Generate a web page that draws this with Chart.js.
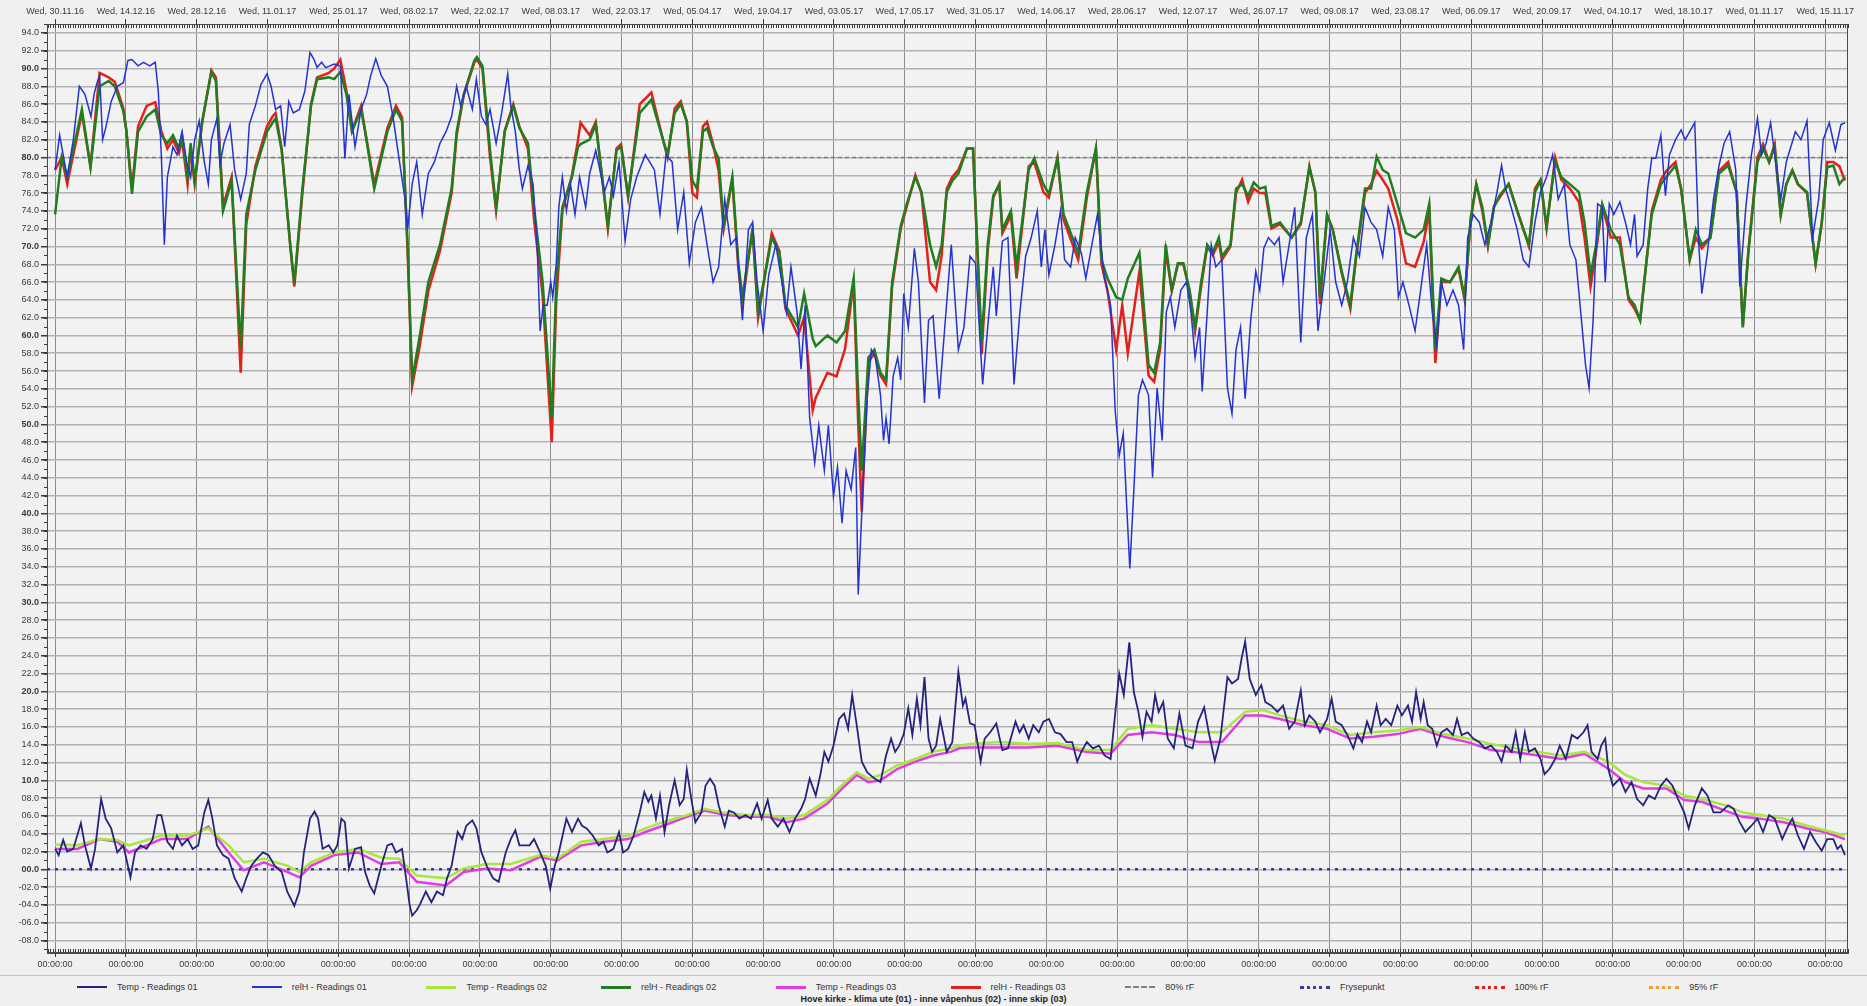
<!DOCTYPE html>
<html lang="no">
<head>
<meta charset="UTF-8">
<title>Hove kirke - klima</title>
<script src="https://cdn.jsdelivr.net/npm/chart.js@4.4.1/dist/chart.umd.min.js"></script>
<style>
  html, body { margin: 0; padding: 0; background: #f0f0f0; }
  #wrap { position: relative; width: 1867px; height: 1006px; overflow: hidden; }
  #c { position: absolute; left: 0; top: 0; }
  #legend { position: absolute; left: 0; top: 975px; width: 1867px; height: 31px;
            border-top: 1px solid #c4c4c4; font: 9px "Liberation Sans", Arial, sans-serif; color: #333; }
  .item { position: absolute; top: 6px; display: flex; align-items: center; white-space: nowrap; }
  .sample { width: 30px; height: 0; margin-right: 10px; }
  #title { position: absolute; top: 18px; left: 0; width: 100%; text-align: center; font-weight: bold; color: #222; }
</style>
</head>
<body>
<div id="wrap">
  <canvas id="c" width="1867" height="975"></canvas>
  <div id="legend"><div id="title">Hove kirke - klima ute (01) - inne våpenhus (02) - inne skip (03)</div></div>
</div>
<script>
// x = days since Wed 30.11.16
const dateLabels = ['Wed, 30.11.16', 'Wed, 14.12.16', 'Wed, 28.12.16', 'Wed, 11.01.17', 'Wed, 25.01.17',
  'Wed, 08.02.17', 'Wed, 22.02.17', 'Wed, 08.03.17', 'Wed, 22.03.17', 'Wed, 05.04.17', 'Wed, 19.04.17',
  'Wed, 03.05.17', 'Wed, 17.05.17', 'Wed, 31.05.17', 'Wed, 14.06.17', 'Wed, 28.06.17', 'Wed, 12.07.17',
  'Wed, 26.07.17', 'Wed, 09.08.17', 'Wed, 23.08.17', 'Wed, 06.09.17', 'Wed, 20.09.17', 'Wed, 04.10.17',
  'Wed, 18.10.17', 'Wed, 01.11.17', 'Wed, 15.11.17'];
const tickDays = [0, 14, 28, 42, 56, 70, 84, 98, 112, 126, 140, 154, 168, 182, 196, 210, 224, 238, 252,
  266, 280, 294, 308, 322, 336, 350];
const timeLabels = tickDays.map(() => '00:00:00');

const legendNames = ['Temp - Readings 01', 'relH - Readings 01', 'Temp - Readings 02', 'relH - Readings 02',
  'Temp - Readings 03', 'relH - Readings 03', '80% rF', 'Frysepunkt', '100% rF', '95% rF'];

const rfLimit = 80;
const freezePoint = 0;

// relH 02 / relH 03 share the sample days
const rhDays = [
  0, 1.3, 2.4, 5.3, 7, 8.8, 10.6, 11.8, 13.5, 14.1,
  15.2, 16.4, 18.1, 19.8, 21, 22.2, 23.3, 24.5, 25.1, 26.2,
  26.8, 27.6, 29.1, 30.9, 31.8, 33.2, 34.9, 36.7, 37.8, 39.6,
  41.9, 43, 43.6, 44.8, 46.5, 47.3, 48.9, 50.6, 51.8, 54.1,
  55.2, 56.4, 57.6, 58.7, 60.5, 61.3, 63.1, 65.7, 67.4, 68.6,
  69.7, 70.6, 72, 73.8, 76.1, 78.4, 79.4, 80.8, 82.9, 83.4,
  84.5, 86, 87.2, 88.9, 90.6, 91.8, 93.5, 94.7, 96.4, 98.2,
  99.1, 100.3, 102.2, 103.4, 103.9, 105.7, 106.9, 108, 109.3, 111,
  111.9, 113.3, 115.6, 117.9, 120.2, 121.1, 122.5, 123.7, 124.9, 126,
  126.9, 128.1, 128.9, 130.1, 131.2, 132.2, 133.9, 135.1, 135.9, 137.9,
  139, 141.7, 143.2, 144.4, 146.9, 148.1, 149.8, 150.4, 152.7, 154.5,
  156.2, 157.9, 158.8, 159.5, 160.8, 162, 163.2, 164.3, 165.5, 167.2,
  168.4, 170.1, 171.3, 173, 174.2, 175.3, 176.3, 177.4, 178.6, 180.3,
  181.5, 183.2, 184.4, 185.5, 186.7, 187.3, 189, 190.1, 192.5, 193.6,
  195.4, 196.5, 198.2, 199.4, 202.3, 204, 205.8, 206.9, 208.1, 209.8,
  211, 212.1, 214.4, 216.2, 217.3, 218.5, 219.6, 220.8, 222, 223.1,
  224.3, 225.4, 226.6, 227.8, 228.9, 230.1, 230.7, 232.4, 233.5, 234.7,
  235.9, 237, 238.2, 239.3, 240.5, 242.2, 244.5, 246.3, 248, 249.2,
  250.1, 251.5, 252.6, 254.4, 256.1, 257.3, 259, 260.2, 261.3, 262.5,
  263.6, 265.4, 267.1, 268.9, 270.6, 271.7, 272.9, 274.1, 275.8, 277.5,
  278.7, 279.9, 281, 282.2, 283.3, 284.5, 285.6, 287.4, 289.1, 290.3,
  291.4, 292.6, 293.7, 294.9, 296.6, 297.8, 299.5, 301.3, 302.4, 303.6,
  304.7, 305.9, 307.6, 309.4, 311.1, 312.3, 313.4, 314.6, 315.7, 317.5,
  318.6, 320.4, 321.5, 323.2, 324.4, 325.6, 327.3, 329, 330.8, 332.5,
  333.7, 334.8, 336.6, 337.7, 338.9, 340, 341.2, 342.3, 343.5, 344.6,
  346.4, 348.1, 349.3, 350.4, 351.6, 352.8, 353.9];

const relH02 = [
  73.6, 80, 77.8, 85.4, 78.9, 88, 88.6, 88, 85.2, 83,
  75.9, 82.9, 84.6, 85.4, 82.5, 81.6, 82.5, 81, 82.5, 77.8,
  81.6, 77.4, 84.1, 89.6, 88.6, 74, 77.4, 58.5, 73.6, 78.6,
  82.9, 83.9, 84.4, 80.8, 70.2, 65.8, 76.5, 85.8, 88.8, 89,
  88.8, 89.6, 87.1, 82.9, 85.4, 82.9, 76.5, 82.9, 85.4, 84.1,
  70.2, 55, 59.6, 66, 70.2, 76.5, 82.9, 87.1, 90.9, 91.3,
  90.3, 80.8, 74.4, 82.9, 85.8, 83.3, 81.6, 74.4, 66, 50.7,
  66, 74.4, 77.8, 81.2, 81.5, 82, 83.7, 78.6, 72.3, 80.8,
  81.2, 75.7, 85, 86.5, 82, 80.3, 85, 86, 84.1, 77.4,
  76.5, 82.9, 83.3, 81.2, 79.9, 72.3, 77.8, 68.1, 64.3, 71.9,
  62.6, 71, 69.3, 63.4, 60.9, 64.7, 59.6, 58.8, 60, 59.2,
  60.5, 66.4, 53.3, 44.8, 57.5, 58.4, 55.8, 55, 66, 72.3,
  74.8, 77.8, 76.1, 70.2, 67.7, 70.2, 76.1, 77.4, 78.2, 81,
  81, 59.2, 70.2, 75.7, 77, 71.9, 74, 67.7, 78.6, 79.9,
  77, 75.9, 79.9, 73.6, 69.3, 76.1, 81, 68.5, 66.4, 64.3,
  64, 66.4, 69.3, 56.7, 55.8, 59.2, 70.2, 65.1, 68.1, 68.1,
  65.1, 60.9, 66, 70.2, 69.3, 71, 68.9, 70.2, 76.5, 77,
  75.7, 77.2, 76.5, 76.7, 72.3, 72.7, 71, 72.7, 78.9, 76.1,
  64.3, 73.6, 71.9, 67.2, 63.4, 69.3, 76.5, 76.5, 80.1, 78.6,
  78.2, 74.8, 71.5, 71, 71.9, 74.8, 58.4, 66.4, 66, 67.7,
  64.3, 73.2, 77, 74.4, 70.2, 74.4, 75.7, 77, 74, 71.9,
  70.2, 76.1, 77.4, 72.3, 79.5, 77.8, 77, 76.1, 72.7, 66.8,
  70.2, 74.8, 71.9, 70.2, 64.3, 63.4, 61.7, 68.1, 73.6, 77,
  77.8, 79.1, 76.5, 68.5, 71.9, 70.2, 71, 78.2, 79.1, 76.1,
  60.9, 69.3, 79.5, 81, 79.5, 81.2, 73.6, 77, 78.6, 77,
  76.1, 68.1, 72.7, 78.9, 79.1, 77, 77.8];

const relH03 = [
  78.6, 80, 77, 85, 79, 89.5, 89, 88.5, 85.5, 83,
  76.5, 83.5, 85.8, 86.2, 83, 81, 82, 80.5, 82, 77,
  81, 77, 84, 89.8, 89, 74.5, 77.8, 55.8, 72.5, 79,
  83.5, 84.6, 85, 81, 70, 65.5, 76, 86, 89, 89.5,
  90, 91, 87.5, 83, 85.8, 83, 77, 83.3, 85.8, 84.5,
  69.5, 54.3, 58.5, 65, 69.5, 76, 82.5, 87, 90.7, 91,
  90, 80, 74, 83, 86, 83.5, 81, 73, 64.5, 48,
  64, 74, 78, 82, 83.9, 82.5, 84, 78.5, 72, 81,
  81.5, 75.5, 86, 87.3, 82, 80, 85.5, 86.3, 84, 76,
  75.5, 83.5, 84, 81.5, 78.5, 72, 77.5, 67.5, 63.5, 72,
  62, 71.5, 69.5, 63, 60, 62, 51.6, 53, 55.8, 55.4,
  58.5, 66, 50, 40.2, 57, 58, 55.5, 54.5, 65.5, 72,
  74.5, 78, 76, 66, 65.1, 69, 76.5, 77.8, 78.6, 81,
  81, 57.9, 69.5, 75.5, 77, 71.5, 73.5, 66.4, 79, 79.5,
  76.1, 75.5, 80, 73, 68.5, 75.5, 81, 68, 65, 58.4,
  63.4, 58, 67.2, 55.5, 54.8, 58.5, 69.5, 65, 68, 68,
  65, 60.5, 65.5, 70, 69, 70.5, 68.5, 70, 76, 77.5,
  75, 76.5, 76, 76, 72, 72.5, 71, 72.5, 79, 76,
  63.5, 73.5, 72, 67, 63, 69, 76, 77, 78.5, 77.5,
  76.5, 73, 68.1, 67.7, 70.5, 74, 56.9, 66, 66, 67.5,
  64, 73, 77, 74, 70, 74.5, 75.5, 77, 74, 72,
  70, 76.5, 77.5, 72, 80, 77.5, 76.5, 75, 71, 65.5,
  69.5, 74.5, 71, 71, 64, 63, 61.7, 68, 74, 77.5,
  78.5, 79.5, 76.5, 68.5, 71, 69.8, 71, 78.5, 79.5, 76,
  61, 69.5, 80, 81.5, 79.5, 81.5, 73.5, 77, 78.5, 77,
  76, 68, 72.5, 79.5, 79.5, 79, 77.4];

// relH 01 (outside) as [day, value]
const relH01 = [
  [0, 78.6], [0.9, 82.5], [2.4, 77.8], [3.6, 82], [4.8, 88], [5.9, 87.1], [7.1, 84.6], [7.7, 87.1], [8.2, 88.2], [8.8, 89.2],
  [9.4, 82], [10, 83.3], [11.1, 86.3], [12.3, 88], [13.5, 88.4], [14.4, 90.9], [15.2, 91], [16.4, 90.3], [17.5, 90.7], [18.7, 90.3],
  [19.8, 90.7], [20.4, 87.5], [21, 80.3], [21.6, 70.2], [22.2, 77.8], [23.3, 81.2], [24.1, 80.3], [25.1, 82.9], [26, 79.5], [26.8, 77.8],
  [27.6, 82], [28.5, 84.1], [29.5, 79.5], [30.3, 77], [30.9, 82], [32, 84.4], [32.6, 79.3], [33.4, 81.6], [34.6, 83.7], [35.5, 78.6],
  [36.7, 75.3], [37.8, 78.2], [38.4, 83.7], [39.6, 85.8], [40.7, 88.2], [41.9, 89.4], [42.7, 88], [43.6, 85.4], [44.6, 85.8], [45.4, 81.2],
  [46.2, 86.3], [47.1, 85], [48.3, 85.4], [49.4, 87.5], [50.4, 91.8], [51.2, 91], [51.8, 90.1], [52.7, 90.7], [53.5, 90.1], [55.2, 90.5],
  [56.4, 90.3], [57.3, 79.9], [58.1, 87.1], [59.3, 81.2], [60.5, 85.4], [61.6, 87.1], [62.4, 89.2], [63.4, 91.1], [64.5, 89.2], [65.7, 88],
  [66.8, 84.6], [68, 79.9], [69.2, 75.3], [69.7, 71.9], [70.6, 77], [71.5, 79.5], [72.6, 73.6], [73.8, 78.2], [75, 79.5], [76.1, 81.6],
  [77.3, 82.9], [78.4, 84.6], [79.4, 88], [80.2, 85.8], [81.3, 88], [82.5, 85.4], [83.3, 88.8], [84.3, 84.6], [85.2, 83.7], [86, 85.4],
  [87.2, 81.6], [88.3, 85], [89.5, 89.4], [90.1, 85.8], [91, 82.9], [91.8, 78.6], [92.4, 76.5], [93.5, 79.1], [94.5, 77], [95.3, 70.2],
  [95.9, 60.5], [96.5, 63.4], [97.3, 63.4], [98, 66], [98.4, 64.3], [99.1, 68.1], [99.6, 74.4], [100.3, 77.8], [101.1, 74], [101.9, 77],
  [102.8, 73.6], [103.7, 77.8], [104.9, 74.4], [105.7, 78.2], [106.9, 80.8], [107.7, 78.6], [108.6, 76.1], [109.6, 77.8], [110.4, 75.7], [111.5, 79.5],
  [112.7, 70.6], [113.8, 75.3], [115, 77.8], [116.7, 80.3], [118.5, 78.6], [119.6, 73.6], [120.8, 80.3], [122, 79.5], [123.1, 71.9], [124.3, 76.1],
  [125.4, 68.1], [126.6, 72.7], [127.8, 74.4], [128.9, 70.2], [130.1, 66], [131.2, 67.7], [132.4, 75.3], [133.6, 70.2], [134.7, 71], [135.9, 61.7],
  [137.1, 71.9], [137.9, 72.7], [138.8, 66], [140, 60.5], [141.1, 66.8], [142.5, 70.2], [143.7, 66], [144.6, 62.6], [145.5, 67.7], [146.7, 62.6],
  [147.5, 56.2], [148.3, 63.4], [149.2, 50.7], [150.2, 45.7], [151, 49.9], [152.1, 44.8], [152.9, 49.9], [153.9, 41.9], [154.7, 45.2], [155.6, 38.9],
  [156.4, 44.8], [157.4, 42.7], [158.3, 47.4], [158.8, 30.9], [159.7, 42.7], [160.6, 53.3], [161.4, 58.4], [162.2, 57.5], [163.2, 53.3], [163.8, 48.2],
  [164.3, 50.7], [164.9, 47.8], [165.7, 55.4], [166.6, 57.5], [167.2, 55], [167.8, 64.7], [168.7, 60.9], [169.9, 69.8], [170.7, 66], [171.9, 52.4],
  [172.7, 61.7], [173.6, 62.2], [174.8, 52.9], [176.2, 63], [177.2, 70.2], [178.6, 58.4], [179.7, 60.9], [180.9, 68.9], [182, 68.1], [183.4, 54.5],
  [184.6, 62.2], [185.5, 67.7], [186.1, 62.2], [187.3, 70.6], [188.4, 71], [189.6, 54.5], [190.7, 62.2], [191.9, 68.9], [193, 71], [194.2, 74],
  [195, 67.7], [195.7, 71.9], [196.5, 66.8], [197.7, 70.2], [198.8, 74], [199.6, 68.5], [200.8, 67.7], [201.7, 71], [202.9, 69.3], [203.8, 66.4],
  [205, 70.2], [206.1, 73.6], [207.5, 66.4], [208.7, 63.4], [209.6, 51.6], [210.4, 46.5], [211.2, 49], [211.9, 40.6], [212.5, 33.8], [213.3, 42.7],
  [214.2, 53.3], [215, 55], [216.2, 53.3], [217, 44], [217.9, 54.1], [218.9, 48.2], [219.7, 62.6], [220.5, 64.3], [221.4, 60.9], [222.6, 65.1],
  [223.7, 66], [224.6, 62.6], [225.4, 57.5], [226.3, 60.9], [226.8, 53.7], [227.8, 62.6], [228.6, 70.2], [229.5, 67.7], [230.7, 68.5], [231.8, 54.1],
  [232.7, 51.2], [233.5, 58.4], [234.4, 60.9], [235.3, 52.9], [236.4, 61.7], [237.4, 67.2], [238.2, 65.1], [239, 69.8], [239.9, 71], [241.1, 70.2],
  [242, 71], [242.8, 66], [244, 70.2], [245.1, 74.4], [246.3, 59.2], [247.4, 71], [248.6, 73.6], [249.7, 60.5], [250.9, 66], [252.1, 71.9],
  [253.2, 66], [254.4, 63.4], [255.5, 66], [256.7, 71], [257.9, 68.9], [259, 74.4], [260.2, 72.7], [261.3, 71.9], [262.5, 68.9], [263.6, 74.4],
  [264.8, 71.9], [265.6, 64.3], [266.5, 66], [267.7, 63.4], [268.9, 60.5], [270, 65.1], [271.2, 70.2], [272.3, 62.6], [273.2, 58.8], [274.1, 66],
  [275.2, 63.4], [276.4, 65.1], [277.5, 63.4], [278.5, 58.4], [279.3, 71], [280.4, 73.6], [281.6, 72.7], [282.7, 70.2], [283.9, 72.7], [285.1, 76.1],
  [286, 79.1], [286.8, 76.5], [287.9, 74.4], [289.1, 71.9], [290.3, 68.5], [291.4, 67.7], [292.6, 72.7], [293.7, 76.1], [294.9, 77.8], [296.1, 80.3],
  [297.2, 75.3], [298.4, 77], [299.5, 70.2], [300.7, 68.5], [301.8, 61.7], [302.6, 56.7], [303.3, 54.1], [304.1, 61.7], [305, 74.8], [305.9, 74.4],
  [306.5, 66], [307.3, 74.8], [308.2, 73.6], [309.4, 75], [310.5, 72.7], [311.5, 70.2], [312.3, 73.6], [312.8, 68.9], [314, 70.2], [314.9, 76.5],
  [315.7, 79.9], [316.5, 79.9], [317.5, 82.5], [318.4, 75.7], [319.2, 80.3], [320.4, 82], [321.5, 83.1], [322.3, 82], [323.2, 82.9], [324.2, 83.9],
  [325, 70.2], [325.6, 64.7], [326.7, 69.3], [327.9, 75.3], [329, 79.1], [330, 81.6], [331.1, 82.9], [332.3, 78.6], [333.1, 65.5], [334.3, 74.4],
  [335.4, 80.3], [336.6, 84.4], [337.4, 80.3], [338.3, 81.6], [339.2, 83.9], [340, 80.3], [341.2, 75.3], [342.3, 79.5], [343.2, 81.2], [344.1, 82.9],
  [345.2, 82], [346.4, 84.1], [347.5, 71], [348.7, 75.3], [349.6, 82], [350.8, 83.9], [352, 80.8], [353.1, 83.7], [353.9, 83.9]];

// Temp 01 (outside) as [day, value]
const temp01 = [
  [0, 2.3], [0.7, 1.6], [1.6, 3.3], [2.4, 2], [3.6, 2.3], [5.1, 5.2], [5.9, 2.7], [7.1, 0.1], [7.9, 2.3], [9.1, 7.9],
  [10, 5.7], [11.1, 4.6], [12.3, 1.9], [13.5, 2.7], [14.9, -0.9], [15.8, 1.9], [16.9, 2.7], [18.1, 2.3], [19.3, 3.4], [20.2, 6.1],
  [21, 6.1], [22.2, 3.1], [23.3, 2.3], [24.1, 3.8], [25.1, 2.7], [26.2, 3.4], [27.2, 2.3], [28.3, 2.7], [29.5, 6.4], [30.3, 7.8],
  [31.1, 5.7], [32, 2.7], [33.2, 1.6], [34.3, 1.2], [35.5, -1], [36.9, -2.5], [37.8, -1], [38.8, 0.4], [39.9, 1.2], [41.1, 1.9],
  [42.2, 1.6], [43.4, 0.4], [44.8, -0.3], [45.9, -2.5], [47.3, -4.1], [48.3, -2.5], [49.2, 1.9], [50.4, 5.7], [51.3, 6.5], [52, 5.7],
  [52.9, 2.3], [54.1, 2.7], [55, 1.9], [55.8, 2.7], [56.6, 5.7], [57.3, 5.3], [58.1, 0.1], [59.3, 2.3], [60.5, 2.5], [61.3, -0.3],
  [62.2, -1.8], [63.1, -2.7], [64.5, 0.4], [65.7, 2.7], [66.6, 2.9], [67.4, 1.9], [68.6, 2.3], [69.4, -1], [70.1, -4], [70.6, -5.2],
  [71.5, -4.6], [72.1, -4], [73.3, -2.5], [74.4, -3.7], [75.5, -2.5], [76.7, -2.9], [77.5, -1], [78.4, 0.4], [79.6, 4.2], [80.5, 3.4],
  [81.3, 4.9], [82.5, 5.5], [83.3, 4.6], [84.3, 1.9], [85.4, 0.3], [86.6, -1], [87.7, -1.4], [89.1, 1.9], [90.1, 3.4], [91, 4.4],
  [91.8, 2.7], [93, 2.7], [93.8, 2.7], [94.7, 3.4], [95.9, 1.9], [97, 0.4], [97.9, -2.2], [98.8, 0.4], [99.6, 1.9], [100.5, 4.2],
  [101.1, 5.7], [102.2, 4.2], [103.4, 5.7], [104.2, 4.9], [105.1, 4.6], [106.3, 3.8], [107.5, 2.7], [108.4, 3.1], [109.2, 1.9], [110.4, 2.3],
  [111.5, 4.2], [112.3, 1.9], [113.3, 2.3], [114.4, 3.8], [115.6, 6.4], [116.5, 8.7], [117.3, 7.6], [117.9, 8.3], [118.8, 5.7], [119.6, 8.3],
  [120.5, 4.2], [121.4, 7.2], [122.5, 10], [123.5, 7.2], [124.3, 7.9], [124.9, 11.2], [125.8, 7.9], [126.6, 5.3], [127.8, 6.4], [128.6, 9.4],
  [129.5, 10.2], [130.4, 9.4], [131.2, 7.2], [132.4, 4.8], [133.2, 6.6], [134.2, 6.4], [135.3, 5.7], [136.5, 6.1], [137.6, 5.7], [138.8, 7.4],
  [139.7, 5.7], [140.9, 7.8], [141.7, 5.7], [142.9, 4.8], [144, 5.7], [145.2, 4.2], [146.3, 5.7], [147.5, 6.8], [148.3, 7.9], [149.2, 10.2],
  [150.4, 8.3], [151.3, 10.6], [152.1, 13.2], [152.9, 12.1], [153.9, 13.9], [155, 16.9], [156, 17.5], [156.8, 15.8], [157.6, 19.6], [158.5, 16.2],
  [159.5, 12.1], [160.6, 10.9], [162, 10.2], [163.2, 9.8], [164.3, 12.8], [165.3, 14.7], [166.1, 13.2], [166.9, 13.9], [167.8, 15.2], [168.7, 18.1],
  [169.5, 15.1], [170.4, 19.2], [171.1, 16.2], [171.9, 21.6], [172.7, 14.7], [173.4, 13.2], [174.2, 13.9], [175, 16.9], [176.3, 13.2], [177.4, 14.3],
  [178.6, 22.2], [179.5, 18.4], [180, 19.2], [180.9, 16.4], [181.8, 16.2], [183, 12.1], [183.8, 14.7], [184.9, 15.4], [186.1, 16.4], [187.3, 13.4],
  [188.4, 13.6], [189.9, 16.6], [190.7, 15.4], [191.5, 16.2], [192.5, 14.7], [193.4, 16.2], [194.5, 15.4], [195.4, 16.6], [196.5, 16.9], [197.7, 15.4],
  [198.8, 15.2], [200, 14.3], [201.1, 14.3], [202.1, 12.1], [202.9, 13.2], [204, 14.3], [205.2, 13.6], [206.4, 13.9], [207.5, 12.8], [208.7, 12.4],
  [209.5, 16.9], [210.4, 22], [211.3, 19.6], [212.4, 25.5], [213.3, 19.9], [214.2, 17.7], [215, 14.9], [215.8, 17.7], [216.8, 16.6], [217.5, 19.6],
  [218.2, 17.7], [219.1, 18.8], [220, 14.7], [221.2, 13.6], [222.3, 17.5], [223.5, 13.9], [224.9, 13.6], [226, 16.6], [227.2, 18.2], [228.1, 15.4],
  [229.3, 12.2], [230.4, 14.7], [231.8, 21.6], [232.7, 20.9], [233.9, 21.4], [234.6, 23.7], [235.3, 25.6], [236.2, 21.4], [237.4, 19.6], [238.5, 20.7],
  [239.3, 18.8], [240.5, 18.4], [241.7, 17.7], [242.8, 18.4], [244, 15.8], [245.1, 16.6], [246.3, 20.1], [247.1, 16.2], [248, 17.3], [249.2, 16.6],
  [250.1, 15.4], [251.5, 16.9], [252.4, 19.2], [253.2, 16.6], [254.4, 16.2], [255.5, 15.1], [256.7, 13.6], [257.5, 15.2], [258.4, 14.3], [259.4, 16.6],
  [260.2, 15.4], [261.3, 18.4], [262.1, 16.2], [263.1, 16.9], [264.2, 16.2], [265.4, 18.4], [266.3, 17.3], [267.5, 18.4], [268.3, 16.6], [269.1, 19.9],
  [270, 16.9], [270.6, 18.8], [271.4, 16.2], [272.3, 15.8], [273.2, 13.9], [274.1, 15.4], [275.2, 15.8], [276.4, 15.1], [277.2, 16.9], [278.1, 15.1],
  [279.3, 15.4], [280.4, 14.7], [281.6, 14.3], [282.7, 13.6], [283.9, 13.9], [285.1, 13.2], [286, 12.1], [286.8, 13.9], [288, 13.2], [288.8, 15.4],
  [289.7, 12.4], [290.6, 15.4], [291.4, 13.2], [292.6, 13.6], [293.7, 12.4], [294.5, 10.7], [295.5, 11.3], [296.6, 12.4], [297.5, 13.9], [298.7, 12.4],
  [299.9, 15.1], [301, 14.7], [302.2, 15.4], [303, 16.2], [303.8, 13.2], [305, 12.4], [305.7, 13.9], [306.5, 14.7], [307.1, 11.3], [308, 9.4],
  [309.4, 10.2], [310.5, 8.7], [311.7, 9.8], [312.8, 7.9], [314, 7.2], [315.1, 8.3], [316.3, 7.9], [317.5, 9.4], [318.6, 10.2], [319.8, 9.4],
  [320.9, 7.9], [322.1, 6.4], [323, 4.6], [324.2, 7.2], [325.6, 9.1], [326.7, 8.3], [327.9, 6.4], [329.3, 6.4], [330.8, 7.2], [331.9, 6.8],
  [333.1, 5.3], [334.2, 4.2], [335.4, 4.9], [336.6, 5.7], [337.7, 4.2], [338.9, 6.1], [340, 5.7], [341.5, 3.4], [342.7, 4.9], [343.5, 5.7],
  [344.6, 3.8], [345.8, 2.3], [347, 4.2], [348.1, 3.1], [349.3, 2.1], [350.4, 3.4], [351.6, 3.4], [352.4, 2.3], [353.1, 2.7], [353.9, 1.6]];

// Temp 02 / Temp 03 (inside) share sample days
const tempDays = [
  0, 4.4, 8.8, 12.3, 14.6, 18.1, 21, 26.2, 30.3, 34.3,
  37.3, 41.3, 46, 48.3, 50.6, 55.2, 59.9, 64.5, 68, 71.5,
  77.3, 80.8, 85.4, 90.1, 95.9, 99.3, 104, 108.6, 113.3, 116.7,
  120.2, 124.9, 128.4, 131.9, 136.5, 141.1, 144.6, 148.1, 152.7, 156.2,
  158.5, 160.8, 163.2, 166.6, 170.1, 173.6, 177.1, 178.8,
  180.9, 186.7, 192.5, 198.2, 204, 208.7, 212.1, 216.8, 221.4, 226.1,
  230.7, 235.3, 238.8, 242.2, 246.9, 251.5, 256.1, 260.7, 265.4, 270,
  274.6, 279.3, 283.9, 288.5, 293.2, 297.8, 302.4, 307.1, 310.5, 314,
  318.6, 322.1, 325.6, 330.2, 333.6, 337.1, 341.8, 346.4, 349.9, 353.9];
const temp02 = [
  2.8, 2.7, 3.4, 3.3, 2.7, 3.3, 3.8, 3.8, 4.6, 2.7,
  0.8, 1.2, 0.4, -0.3, 0.8, 1.9, 2.3, 1.3, 1.2, -0.7,
  -1, 0.1, 0.6, 0.6, 1.6, 1.2, 3.1, 3.4, 3.8, 4.6,
  5.3, 6.1, 6.8, 6.4, 6.1, 6.1, 5.7, 6.1, 7.8, 9.8,
  10.9, 10.2, 10.6, 11.7, 12.4, 13.2, 13.6, 13.9,
  14.1, 14.3, 14.1, 14.2, 13.4, 13.4, 15.8, 16.2, 15.8, 15.4,
  15.4, 17.7, 17.9, 17.3, 16.6, 16.2, 15.1, 15.4, 15.6, 16,
  15.2, 14.7, 14.1, 13.6, 13.2, 12.8, 13.2, 12.1, 10.6, 9.8,
  9.4, 8.3, 7.9, 7.2, 6.4, 6.1, 5.7, 4.9, 4.4, 3.8];
const temp03 = [
  2.3, 2.3, 3.4, 3.1, 1.9, 2.7, 3.4, 3.4, 4.8, 1.9,
  -0.1, 0.8, -0.3, -0.9, 0.4, 1.6, 1.9, 0.6, 0.8, -1.4,
  -1.8, -0.3, 0.1, -0.1, 1.4, 1, 2.7, 3.1, 3.4, 4.2,
  4.9, 5.9, 6.6, 6.2, 5.9, 5.9, 5.3, 5.7, 7.4, 9.4,
  10.6, 9.8, 10, 11.3, 12.1, 12.8, 13.2, 13.6,
  13.7, 13.7, 13.7, 13.9, 13.2, 13, 15.1, 15.4, 15.1, 14.3,
  14.3, 17.3, 17.3, 16.9, 16.2, 15.8, 14.7, 14.9, 15.2, 15.8,
  14.9, 14.3, 13.4, 13.2, 12.8, 12.4, 13, 11.3, 9.8, 9.1,
  9.1, 7.8, 7.6, 6.6, 5.9, 5.7, 5.3, 4.6, 4.2, 3.4];

const X_MIN = -1.6, X_MAX = 354.5;
const Y_MIN = -9.4, Y_MAX = 95;

const colors = {
  temp01: '#24247e', relH01: '#2434d2', temp02: '#a6e83c', relH02: '#1f7f1f',
  temp03: '#e03ce0', relH03: '#e3201c', rf80: '#808080', frost: '#3a3aa6', rf100: '#e3201c', rf95: '#f0a030'
};

function line(label, points, color, width, extra) {
  return Object.assign({
    label: label, data: points, borderColor: color, borderWidth: width,
    pointRadius: 0, fill: false, tension: 0
  }, extra || {});
}
const zip = (xs, ys) => xs.map((x, i) => ({ x: x, y: ys[i] }));
const pairs = arr => arr.map(p => ({ x: p[0], y: p[1] }));

// minor ticks + frame
const framePlugin = {
  id: 'framePlugin',
  beforeDraw(chart) {
    const { ctx, chartArea: a } = chart;
    ctx.save();
    ctx.fillStyle = '#f0f0f0';
    ctx.fillRect(0, 0, chart.width, chart.height);
    ctx.fillStyle = '#f2f2f2';
    ctx.fillRect(a.left, a.top, a.right - a.left, a.bottom - a.top);
    ctx.restore();
  },
  afterDraw(chart) {
    const { ctx, chartArea: a } = chart;
    const xs = chart.scales.x, ys = chart.scales.y;
    ctx.save();
    ctx.strokeStyle = '#3a3a3a';
    ctx.lineWidth = 1;
    ctx.beginPath();
    for (let d = Math.ceil(xs.min * 2) / 2; d <= xs.max; d += 0.5) {
      const px = Math.round(xs.getPixelForValue(d)) + 0.5;
      ctx.moveTo(px, a.top); ctx.lineTo(px, a.top + 4);
      ctx.moveTo(px, a.bottom); ctx.lineTo(px, a.bottom - 4);
    }
    for (let v = Math.ceil(ys.min); v <= ys.max; v += 1) {
      const py = Math.round(ys.getPixelForValue(v)) + 0.5;
      ctx.moveTo(a.left - 3, py); ctx.lineTo(a.left, py);
    }
    ctx.stroke();
    ctx.strokeStyle = '#4a4a4a';
    ctx.strokeRect(a.left + 0.5, a.top + 0.5, a.right - a.left - 1, a.bottom - a.top - 1);
    ctx.restore();
  }
};

Chart.defaults.font.family = '"Liberation Sans", Arial, sans-serif';
Chart.defaults.font.size = 9;
Chart.defaults.color = '#3a3a3a';

// Chart.js paints the first dataset last, so the top-most line comes first here
new Chart(document.getElementById('c'), {
  type: 'line',
  data: {
    datasets: [
      line('Temp - Readings 01', pairs(temp01), colors.temp01, 1.8),
      line('Temp - Readings 02', zip(tempDays, temp02), colors.temp02, 2.5),
      line('Temp - Readings 03', zip(tempDays, temp03), colors.temp03, 2.5),
      line('relH - Readings 01', pairs(relH01), colors.relH01, 1.5),
      line('relH - Readings 02', zip(rhDays, relH02), colors.relH02, 2.5),
      line('relH - Readings 03', zip(rhDays, relH03), colors.relH03, 2.5),
      line('Frysepunkt', [{ x: X_MIN, y: freezePoint }, { x: X_MAX, y: freezePoint }], colors.frost, 2.5, { borderDash: [3, 5] }),
      line('80% rF', [{ x: X_MIN, y: rfLimit }, { x: X_MAX, y: rfLimit }], colors.rf80, 1.5, { borderDash: [4, 3] })
    ]
  },
  options: {
    responsive: false,
    animation: false,
    events: [],
    layout: { padding: { left: 0, right: 19, top: 0, bottom: 0 } },
    plugins: { legend: { display: false }, tooltip: { enabled: false } },
    scales: {
      x: {
        type: 'linear', position: 'bottom', min: X_MIN, max: X_MAX,
        afterBuildTicks: ax => { ax.ticks = tickDays.map(v => ({ value: v })); },
        afterFit: s => { s.height = 22; },
        ticks: { autoSkip: false, maxRotation: 0, padding: 2, callback: (v, i) => timeLabels[i] },
        grid: { drawOnChartArea: false, tickLength: 4, tickColor: '#3a3a3a' },
        border: { display: true, color: '#4a4a4a' }
      },
      x2: {
        type: 'linear', position: 'top', min: X_MIN, max: X_MAX,
        afterBuildTicks: ax => { ax.ticks = tickDays.map(v => ({ value: v })); },
        afterFit: s => { s.height = 24; },
        ticks: { autoSkip: false, maxRotation: 0, padding: 2, callback: (v, i) => dateLabels[i] },
        grid: { color: '#8c8c8c', lineWidth: 1, tickLength: 5, tickColor: '#3a3a3a' },
        border: { display: true, color: '#4a4a4a' }
      },
      y: {
        type: 'linear', min: Y_MIN, max: Y_MAX,
        afterFit: s => { s.width = 47; },
        ticks: {
          stepSize: 2, includeBounds: false, autoSkip: false, maxTicksLimit: 1000, padding: 2,
          callback: v => (v < 0 ? '-' : '') + Math.abs(v).toFixed(1).padStart(4, '0'),
          font: c => ({ size: 9, weight: c.tick && c.tick.value % 10 === 0 ? 'bold' : 'normal' })
        },
        grid: { color: '#b2b2b2', lineWidth: 1.5, tickLength: 6, tickColor: '#3a3a3a' },
        border: { display: true, color: '#4a4a4a' }
      }
    }
  },
  plugins: [framePlugin]
});

// legend row, fixed columns as in the original program
const legendStyles = [
  'border-top:2px solid ' + colors.temp01,
  'border-top:2px solid ' + colors.relH01,
  'border-top:3px solid ' + colors.temp02,
  'border-top:3px solid ' + colors.relH02,
  'border-top:3px solid ' + colors.temp03,
  'border-top:3px solid ' + colors.relH03,
  'border-top:2px dashed ' + colors.rf80,
  'border-top:3px dotted ' + colors.frost,
  'border-top:3px dotted ' + colors.rf100,
  'border-top:3px dotted ' + colors.rf95
];
const legendEl = document.getElementById('legend');
legendNames.forEach((name, i) => {
  const item = document.createElement('div');
  item.className = 'item';
  item.style.left = (77 + i * 174.7) + 'px';
  item.innerHTML = '<span class="sample" style="' + legendStyles[i] + '"></span><span>' + name + '</span>';
  legendEl.appendChild(item);
});
</script>
</body>
</html>
